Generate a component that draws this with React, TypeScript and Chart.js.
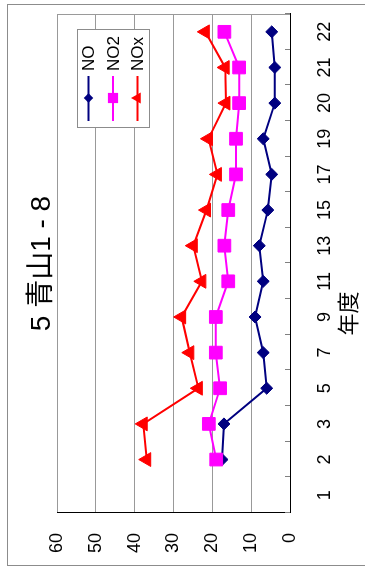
import React, { useEffect, useRef } from 'react';
import { Chart, registerables } from 'chart.js';

Chart.register(...registerables);

const years = ['1', '2', '3', '5', '7', '9', '11', '13', '15', '17', '19', '20', '21', '22'];
const noValues = [null, 17.5, 17.0, 6.0, 6.9, 9.0, 6.9, 7.9, 5.7, 4.7, 6.9, 3.9, 3.9, 4.7];
const no2Values = [null, 19.0, 20.9, 18.0, 19.1, 19.1, 15.9, 16.9, 15.9, 13.9, 13.9, 13.1, 13.1, 16.9];
const noxValues = [null, 36.9, 37.8, 23.6, 25.8, 27.9, 22.7, 24.9, 21.5, 18.7, 21.0, 16.5, 16.7, 21.8];
const seriesNames = ['NO', 'NO2', 'NOx'];
const seriesColors = ['#000080', '#FF00FF', '#FF0000'];
const seriesPoints = ['rectRot', 'rect', 'triangle'];
const pointRadii = [6, 9, 8];
const valueMin = 0;
const valueMax = 60;
const valueStep = 10;
const titleText = '5 青山1 - 8';
const axisTitle = '年度';

const FONT = '"Liberation Sans", Arial, "Noto Sans CJK JP", sans-serif';
const W = 562;
const H = 358;

function drawMarker(ctx: CanvasRenderingContext2D, style: string, x: number, y: number, r: number) {
  ctx.beginPath();
  if (style === 'rectRot') {
    ctx.moveTo(x - r, y);
    ctx.lineTo(x, y - r);
    ctx.lineTo(x + r, y);
    ctx.lineTo(x, y + r);
  } else if (style === 'rect') {
    const s = r * Math.SQRT1_2;
    ctx.rect(x - s, y - s, 2 * s, 2 * s);
  } else {
    for (let k = 0; k < 3; k++) {
      const a = (k * 2 * Math.PI) / 3;
      const px = x + Math.sin(a) * r;
      const py = y - Math.cos(a) * r;
      if (k === 0) ctx.moveTo(px, py);
      else ctx.lineTo(px, py);
    }
  }
  ctx.closePath();
  ctx.fill();
}

export default function App() {
  const ref = useRef<HTMLCanvasElement>(null);

  useEffect(() => {
    const canvas = ref.current;
    if (!canvas) return;

    const decor = {
      id: 'decor',
      beforeDraw(chart: any) {
        const ctx = chart.ctx as CanvasRenderingContext2D;
        ctx.save();
        ctx.fillStyle = '#ffffff';
        ctx.fillRect(0, 0, chart.width, chart.height);
        ctx.strokeStyle = '#8c8c8c';
        ctx.lineWidth = 1;
        ctx.strokeRect(0.5, 0.5, chart.width - 1, chart.height + 10);
        ctx.restore();
      },
      afterDraw(chart: any) {
        const ctx = chart.ctx as CanvasRenderingContext2D;
        const area = chart.chartArea;
        const xs = chart.scales.x;
        ctx.save();
        // plot area right border
        ctx.strokeStyle = '#9a9a9a';
        ctx.lineWidth = 1;
        ctx.beginPath();
        ctx.moveTo(Math.round(area.right) - 0.5, area.top);
        ctx.lineTo(Math.round(area.right) - 0.5, area.bottom);
        ctx.stroke();
        // inner category tick marks
        ctx.strokeStyle = '#808080';
        ctx.beginPath();
        for (let i = 0; i <= years.length; i++) {
          const px = Math.round(xs.getPixelForValue(i - 0.5)) + 0.5;
          ctx.moveTo(px, area.bottom);
          ctx.lineTo(px, area.bottom - 5);
        }
        ctx.stroke();
        // title
        ctx.fillStyle = '#000';
        ctx.textAlign = 'center';
        ctx.textBaseline = 'middle';
        ctx.font = `28px ${FONT}`;
        ctx.fillText(titleText, (area.left + area.right) / 2, area.top - 15);
        // axis title
        ctx.font = `22px ${FONT}`;
        ctx.fillText(axisTitle, area.left + (area.right - area.left) * 0.4, area.bottom + 60);
        // legend
        const bx = area.right - 114;
        const by = area.top + 20;
        const bw = 98;
        const bh = 72;
        ctx.fillStyle = '#fff';
        ctx.fillRect(bx, by, bw, bh);
        ctx.strokeStyle = '#8c8c8c';
        ctx.lineWidth = 1;
        ctx.strokeRect(bx + 0.5, by + 0.5, bw, bh);
        chart.data.datasets.forEach((ds: any, i: number) => {
          const cy = by + 11.5 + i * 24.5;
          ctx.strokeStyle = seriesColors[i];
          ctx.fillStyle = seriesColors[i];
          ctx.lineWidth = 2;
          ctx.beginPath();
          ctx.moveTo(bx + 7, cy);
          ctx.lineTo(bx + 52, cy);
          ctx.stroke();
          drawMarker(ctx, seriesPoints[i], bx + 30, cy, pointRadii[i] * 0.8);
          ctx.fillStyle = '#000';
          ctx.textAlign = 'left';
          ctx.textBaseline = 'middle';
          ctx.font = `17px ${FONT}`;
          ctx.fillText(ds.label, bx + 57, cy + 1);
        });
        ctx.restore();
      },
    };

    const seriesData = [noValues, no2Values, noxValues];
    const chart = new Chart(canvas, {
      type: 'line',
      data: {
        labels: years,
        datasets: seriesNames.map((name, i) => ({
          label: name,
          data: seriesData[i],
          borderColor: seriesColors[i],
          backgroundColor: seriesColors[i],
          borderWidth: 2,
          pointStyle: seriesPoints[i] as any,
          pointRadius: pointRadii[i],
          pointBorderWidth: 1,
          pointBackgroundColor: seriesColors[i],
          pointBorderColor: seriesColors[i],
          tension: 0,
          spanGaps: false,
          order: 3 - i,
        })),
      },
      options: {
        responsive: false,
        animation: false,
        devicePixelRatio: 1,
        layout: { padding: { left: 0, right: 4, top: 50, bottom: 0 } },
        plugins: {
          legend: { display: false },
          title: { display: false },
          tooltip: { enabled: false },
        },
        scales: {
          x: {
            type: 'category',
            offset: true,
            grid: {
              display: true,
              drawOnChartArea: false,
              drawTicks: true,
              tickLength: 24,
              tickColor: 'rgba(0,0,0,0)',
              color: 'rgba(0,0,0,0)',
            },
            border: { display: true, color: '#000', width: 1 },
            ticks: {
              color: '#000',
              font: { family: FONT, size: 18 },
              padding: 0,
              maxRotation: 0,
              autoSkip: false,
            },
            afterFit: (scale: any) => {
              scale.height = 75;
            },
          },
          y: {
            min: valueMin,
            max: valueMax,
            ticks: {
              stepSize: valueStep,
              color: '#000',
              font: { family: FONT, size: 18 },
              padding: 20,
            },
            grid: { color: '#999999', lineWidth: 1, drawTicks: false },
            border: { display: true, color: '#000', width: 1 },
            afterFit: (scale: any) => {
              scale.width = 53;
            },
          },
        },
      },
      plugins: [decor],
    });
    return () => chart.destroy();
  }, []);

  return (
    <div style={{ position: 'absolute', left: 0, top: 0, width: 365, height: 567, overflow: 'hidden', background: '#fff' }}>
      <div
        style={{
          position: 'absolute',
          left: 7,
          top: 566,
          width: W,
          height: H,
          transformOrigin: '0 0',
          transform: 'rotate(-90deg)',
        }}
      >
        <canvas ref={ref} width={W} height={H} style={{ display: 'block', width: W, height: H }} />
      </div>
    </div>
  );
}
